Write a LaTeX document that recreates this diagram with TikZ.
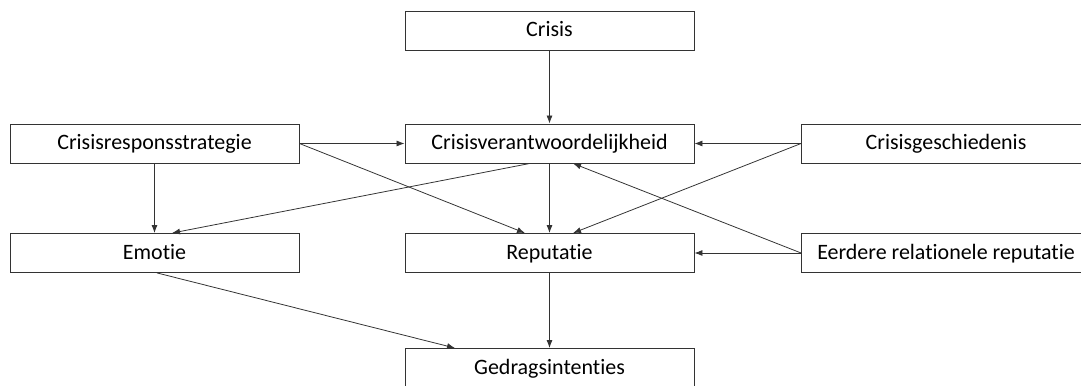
\documentclass[tikz,border=0pt]{standalone}
\usepackage{fontspec}
\setmainfont[Ligatures=NoCommon]{Carlito}
\usetikzlibrary{arrows.meta}

\begin{document}
\begin{tikzpicture}[
    box/.style={draw=black!80, line width=0.5pt, minimum width=5.78cm, minimum height=0.78cm,
        inner sep=0pt, text height=0.30cm, text depth=0.05cm, font=\fontsize{12.5}{15}\selectfont},
    arr/.style={draw=black!80, line width=0.45pt, -{Latex[length=1.6mm,width=1.2mm]}}
]
                    \useasboundingbox (0,0) rectangle (21.62,7.72);
                    \clip (0,0) rectangle (21.62,7.72);

                    \node [box] (crisis) at (10.99,7.11) {Crisis};
                    \node [box] (verantw) at (10.99,4.85) {Crisisverantwoordelijkheid};
                    \node [box] (respons) at (3.09,4.85) {Crisisresponsstrategie};
                    \node [box] (geschied) at (18.92,4.85) {Crisisgeschiedenis};
                    \node [box] (emotie) at (3.09,2.66) {Emotie};
                    \node [box] (reputatie) at (10.99,2.66) {Reputatie};
                    \node [box] (eerdere) at (18.92,2.66) {Eerdere relationele reputatie};
                    \node [box] (gedrag) at (10.99,0.36) {Gedragsintenties};

                    \draw [arr] (crisis) -- (verantw);
                    \draw [arr] (respons.east) -- (verantw.west);
                    \draw [arr] (geschied.west) -- (verantw.east);
                    \draw [arr] (respons.south) -- (emotie.north);
                    \draw [arr] (respons.east) -- ([xshift=-0.49cm]reputatie.north);
                    \draw [arr] ([xshift=-0.39cm]verantw.south) -- ([xshift=0.35cm]emotie.north);
                    \draw [arr] (verantw.south) -- (reputatie.north);
                    \draw [arr] (geschied.west) -- ([xshift=0.47cm]reputatie.north);
                    \draw [arr] (eerdere.west) -- ([xshift=0.47cm]verantw.south);
                    \draw [arr] (eerdere.west) -- (reputatie.east);
                    \draw [arr] ([xshift=0.05cm]emotie.south) -- ([xshift=-1.89cm]gedrag.north);
                    \draw [arr] (reputatie.south) -- (gedrag.north);

\end{tikzpicture}
\end{document}
